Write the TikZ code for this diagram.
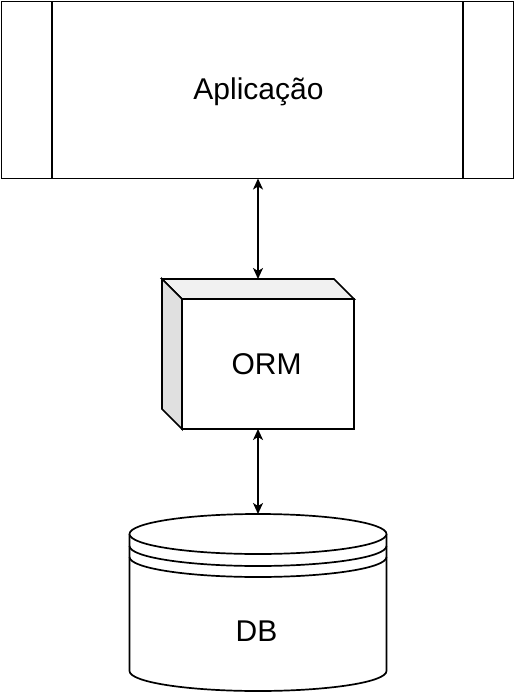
\documentclass[tikz,border=0pt]{standalone}
\usepackage{fontspec}
\setmainfont{Liberation Sans}
\usetikzlibrary{arrows.meta}
\definecolor{topface}{HTML}{F1F1F1}
\definecolor{sideface}{HTML}{E0E0E0}
\begin{document}
\begin{tikzpicture}[x=1pt,y=-1pt,
  outline/.style={draw=black,line width=1.7pt,line join=miter},
  lbl/.style={font=\fontsize{30}{35}\selectfont},
  biarrow/.style={line width=1.7pt,{Stealth[length=11pt,width=10pt,inset=3pt]}-{Stealth[length=11pt,width=10pt,inset=3pt]}}]
\useasboundingbox (0,0) rectangle (515,692);
% Application
\node[outline,fill=white,minimum width=512pt,minimum height=177pt,inner sep=0pt,anchor=center] (app) at (257.5,90) {};
\node[lbl,inner sep=0pt] (apptext) at (258.5,92) {Aplicação};
\draw[outline] (52,1.5) -- (52,178.5);
\draw[outline] (463,1.5) -- (463,178.5);
% ORM cube
\draw[outline,fill=topface] (162,279) -- (334,279) -- (354,299) -- (182,299) -- cycle;
\draw[outline,fill=sideface] (162,279) -- (182,299) -- (182,429) -- (162,409) -- cycle;
\node[outline,fill=white,minimum width=172pt,minimum height=130pt,inner sep=0pt] (orm) at (268,364) {};
\node[lbl,inner sep=0pt] (ormtext) at (266.5,364.5) {ORM};
\coordinate (ormtop) at (258,279);
\coordinate (ormbot) at (258,429);
% DB cylinder
\draw[outline,fill=white] (129.5,534) -- (129.5,671) arc[start angle=180,end angle=0,x radius=128.5,y radius=20] -- (386.5,534);
\draw[outline,fill=white] (258,534) ellipse[x radius=128.5,y radius=20];
\draw[outline] (129.5,546) arc[start angle=180,end angle=0,x radius=128.5,y radius=20];
\draw[outline] (129.5,557) arc[start angle=180,end angle=0,x radius=128.5,y radius=20];
\node[lbl,inner sep=0pt] (db) at (256.5,631) {DB};
\coordinate (dbtop) at (258,514);
% connectors
\draw[biarrow] (258,178.5) coordinate (appbot) -- (ormtop);
\draw[biarrow] (ormbot) -- (dbtop);
\end{tikzpicture}
\end{document}
